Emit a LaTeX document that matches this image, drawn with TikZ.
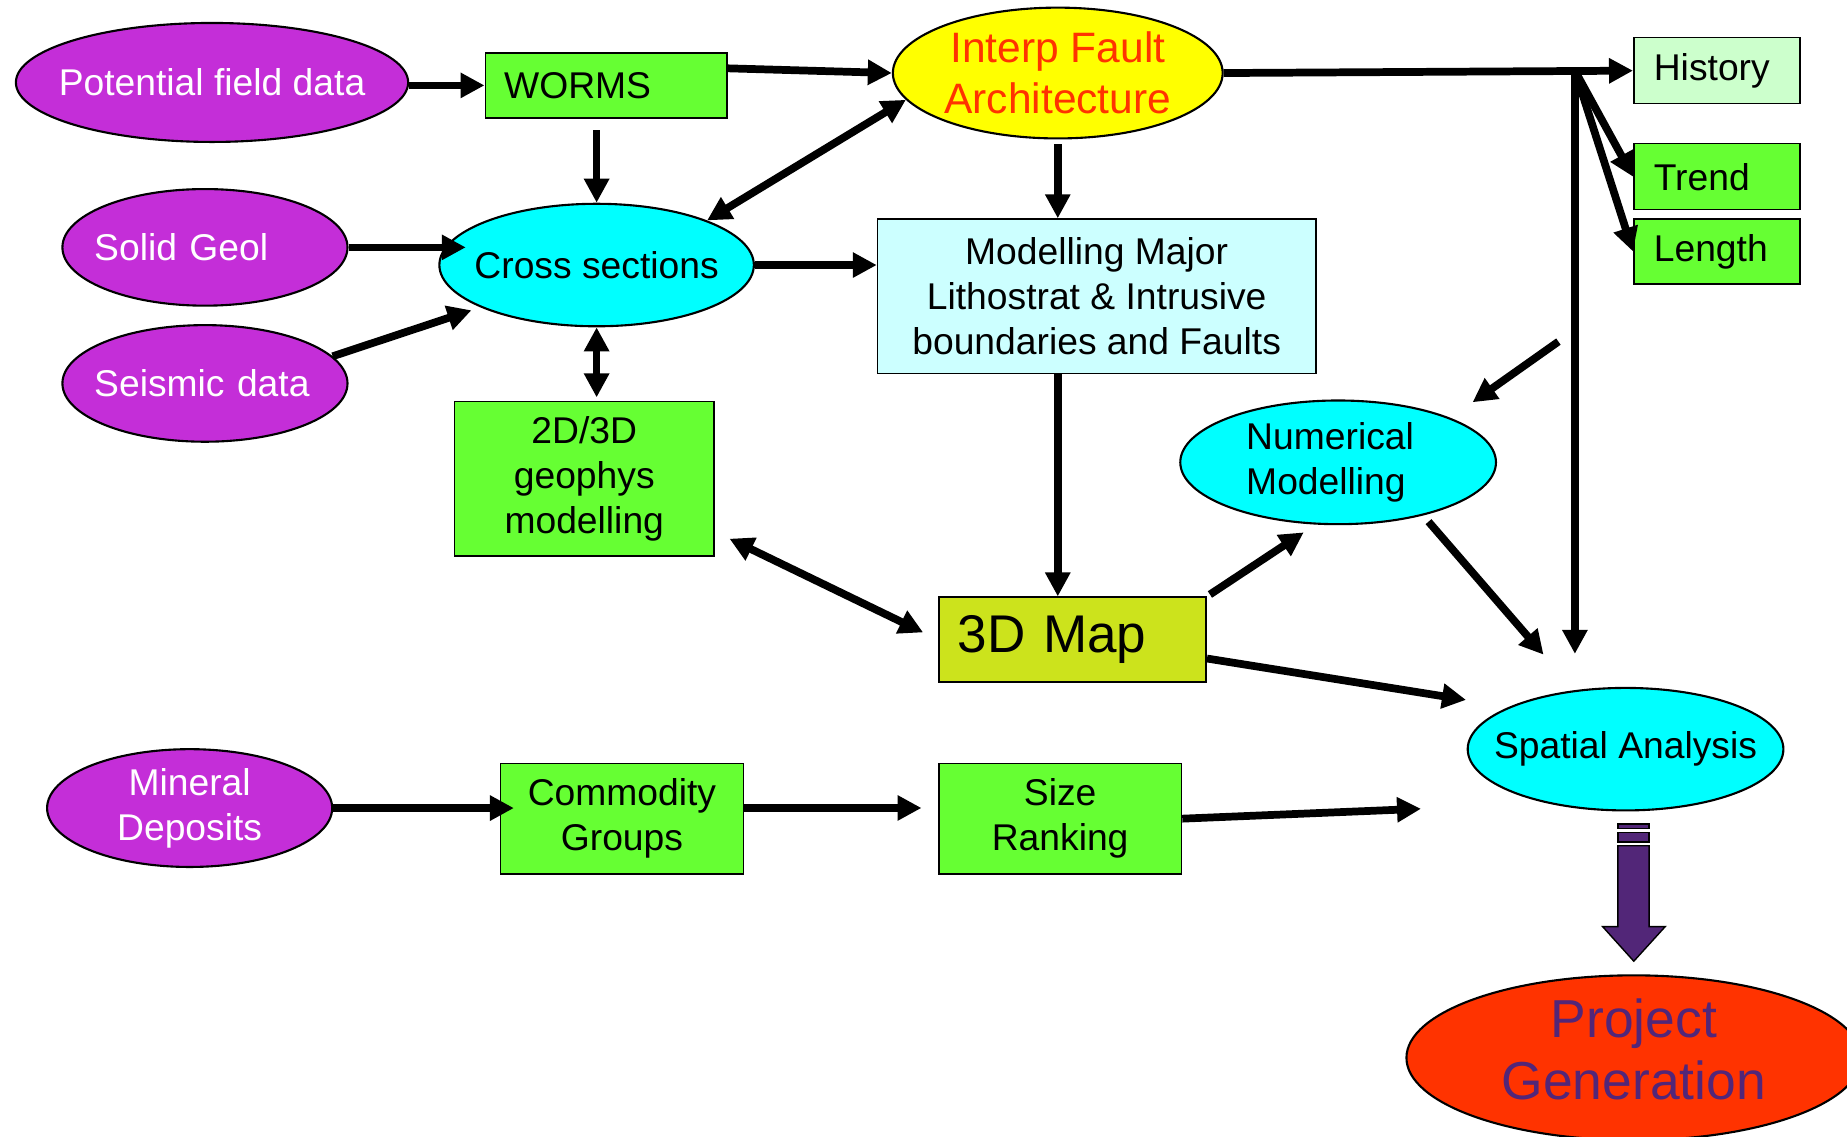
\documentclass[tikz,border=0pt]{standalone}
\usepackage{fontspec}
\setmainfont{Liberation Sans}
\usetikzlibrary{shapes.geometric,arrows.meta}

\definecolor{sourcepurple}{RGB}{196,46,216}
\definecolor{boxgreen}{RGB}{102,255,51}
\definecolor{historygreen}{RGB}{204,255,204}
\definecolor{crosscyan}{RGB}{0,255,255}
\definecolor{modelcyan}{RGB}{204,255,255}
\definecolor{mapgreen}{RGB}{204,227,28}
\definecolor{faultyellow}{RGB}{255,255,0}
\definecolor{faultred}{RGB}{255,51,0}
\definecolor{projectred}{RGB}{255,51,0}
\definecolor{projectpurple}{RGB}{82,38,120}

\newcommand{\flowfont}{\fontsize{10.6}{12.7}\selectfont}
\newcommand{\interpfont}{\fontsize{12.1}{14.4}\selectfont}
\newcommand{\mapfont}{\fontsize{15.1}{18}\selectfont}
\newcommand{\projfont}{\fontsize{15.2}{17.7}\selectfont}

\tikzset{
  ovalnode/.style={ellipse, draw=black, line width=0.6pt, inner sep=-0.6cm},
  sourcenode/.style={ovalnode, fill=sourcepurple, text=white,
    minimum width=2.851cm, minimum height=1.166cm},
  boxnode/.style={rectangle, draw=black, line width=0.45pt, fill=boxgreen, align=center},
  sidebox/.style={boxnode, minimum width=1.661cm, minimum height=0.660cm,
    text width=1.26cm, align=left},
  flowarrow/.style={line width=2.2pt, -{Triangle[length=0.24cm,width=0.24cm]}},
  bothflow/.style={line width=2.2pt,
    {Triangle[length=0.24cm,width=0.24cm]}-{Triangle[length=0.24cm,width=0.24cm]}},
}

\begin{document}
\begin{tikzpicture}[x=0.01178cm, y=-0.01178cm]
            \useasboundingbox (0,0) rectangle (1568,965);
            \clip (0,0) rectangle (1568,965);
            {\flowfont

            % Marking data sources
            \node [sourcenode, minimum width=3.923cm, minimum height=1.190cm] (pfd) at (180,70) {Potential field data};%
            \node [sourcenode, text width=2.215cm, align=left] (solid) at (174,210) {Solid Geol};%
            \node [sourcenode, text width=2.215cm, align=left] (seismic) at (174,325.5) {Seismic data};%
            \node [sourcenode, minimum height=1.178cm, align=center] (mineral) at (161,686) {Mineral\\Deposits};%

            % Marking WORMS and fault architecture
            \node [boxnode, minimum width=2.415cm, minimum height=0.648cm, text width=2.038cm, align=left] (worms) at (514.5,72.5) {WORMS};%
            \node [ovalnode, fill=faultyellow, text=faultred, font=\interpfont, minimum width=3.298cm, minimum height=1.308cm, align=center] (interp) at (898,62) {Interp Fault\\Architecture};%

            % Marking fault attributes
            \node [sidebox, fill=historygreen] (hist) at (1457.5,60) {History};%
            \node [sidebox] (trend) at (1457.5,150) {Trend};%
            \node [sidebox, minimum height=0.648cm] (length) at (1457.5,213.5) {Length};%

            % Marking modelling steps
            \node [ovalnode, fill=crosscyan, minimum width=3.145cm, minimum height=1.225cm] (cross) at (506.5,225) {Cross sections};%
            \node [boxnode, fill=modelcyan, minimum width=4.382cm, minimum height=1.543cm] (model) at (931,251.5) {Modelling Major\\Lithostrat \& Intrusive\\boundaries and Faults};%
            \node [boxnode, minimum width=2.592cm, minimum height=1.543cm] (geo) at (496,406.5) {2D/3D\\geophys\\modelling};%
            \node [ovalnode, fill=crosscyan, minimum width=3.157cm, minimum height=1.237cm, text width=1.838cm, align=left] (num) at (1136,392.5) {Numerical\\Modelling};%
            \node [boxnode, fill=mapgreen, font=\mapfont, minimum width=2.674cm, minimum height=0.848cm, text width=2.297cm, align=left] (map) at (910.5,543) {3D Map};%
            \node [ovalnode, fill=crosscyan, minimum width=3.157cm, minimum height=1.225cm] (spatial) at (1380,636) {Spatial Analysis};%

            % Marking deposit boxes
            \node [boxnode, minimum width=2.427cm, minimum height=1.107cm] (comm) at (528,695) {Commodity\\Groups};%
            \node [boxnode, minimum width=2.427cm, minimum height=1.107cm] (size) at (900,695) {Size\\Ranking};%

            % Marking project generation
            \node [ovalnode, fill=projectred, text=projectpurple, font=\projfont, minimum width=4.547cm, minimum height=1.649cm] (project) at (1387,898) {\raisebox{0pt}[\height][\dimexpr\depth+0.04cm\relax]{\begin{tabular}{@{}c@{}}Project\\Generation\end{tabular}}};%

            % Drawing fat arrow to project generation
            \filldraw [fill=projectpurple, draw=black, line width=0.4pt] (1373.5,699.5) rectangle (1400,703.5);%
            \filldraw [fill=projectpurple, draw=black, line width=0.4pt] (1373.5,706.6) rectangle (1400,714.8);%
            \filldraw [fill=projectpurple, draw=black, line width=0.4pt] (1373.5,718) -- (1400,718) -- (1400,786.6) -- (1413.7,786.6) -- (1387,816) -- (1360.5,786.6) -- (1373.5,786.6) -- cycle;%

            % Drawing arrows of the top row
            \draw [flowarrow] (pfd.east |- worms.west) -- (worms.west);%
            \draw [flowarrow] (worms.8) -- (interp.west);%
            \draw [flowarrow, shorten <=0.118cm] (worms.south -| cross.north) -- (cross.north);%
            \draw [bothflow] (cross.22) -- (interp.190);%

            % Drawing arrows into cross sections
            \draw [flowarrow] (solid.east) -- (solid.east -| cross.165);%
            \draw [flowarrow, shorten >=0.094cm] (seismic.12) -- (cross.200);%
            \draw [bothflow, shorten >=0.035cm] (cross.south) -- (cross.south |- geo.north);%

            % Drawing arrows through the model
            \draw [flowarrow] (cross.east) -- (cross.east -| model.west);%
            \draw [flowarrow, shorten <=0.047cm] (interp.south) -- (interp.south |- model.north);%
            \draw [flowarrow] (model.south -| interp.south) -- (map.north -| interp.south);%
            \draw [bothflow, shorten <=0.165cm, shorten >=0.165cm] (geo.-22) -- (map.west);%
            \draw [flowarrow, shorten <=0.035cm, shorten >=0.141cm] (map.north east) -- (num.250);%
            \draw [flowarrow, shorten >=0.436cm] (map.-8) -- (spatial.160);%
            \draw [flowarrow, shorten <=0.082cm, shorten >=0.47cm] (num.328) -- (spatial.131);%

            % Drawing fault attribute arrows
            \coordinate (hub) at (1337,60);%
            \draw [flowarrow] (interp.east) -- (hist.west);%
            \draw [flowarrow] (hub) -- (trend.west);%
            \draw [flowarrow] (hub) -- (length.west);%
            \draw [flowarrow, shorten >=0.33cm] (hub) -- (hub |- spatial.north);%
            \coordinate (numin) at (1323,290);%
            \draw [flowarrow, shorten >=0.27cm] (numin) -- (num.north east);%

            % Drawing arrows of the deposit row
            \draw [flowarrow, shorten >=-0.141cm] (mineral.east) -- (mineral.east -| comm.west);%
            \draw [flowarrow, shorten >=0.165cm] (comm.5) -- (size.west |- comm.5);%
            \draw [flowarrow, shorten >=1.27cm] (size.east) -- (spatial.215);%
            }
\end{tikzpicture}
\end{document}
